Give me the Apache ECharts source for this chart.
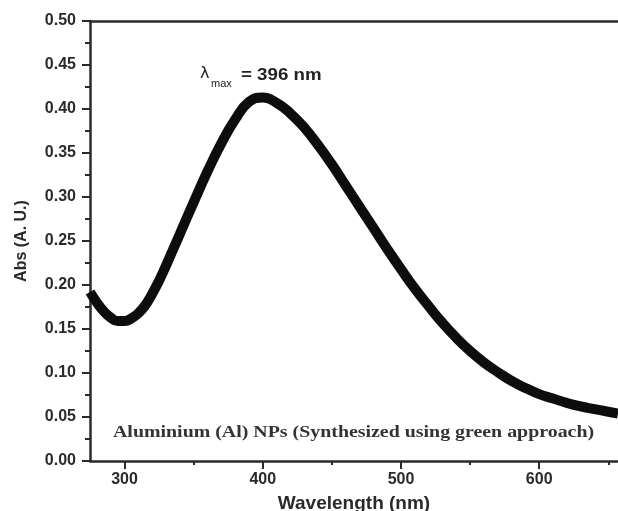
<!DOCTYPE html>
<html><head><meta charset="utf-8">
<script src="https://cdn.jsdelivr.net/npm/echarts@6/dist/echarts.min.js"></script>
<style>html,body{margin:0;padding:0;background:#fff}#c{width:618px;height:511px}</style>
</head><body><div id="c"></div>
<script>
var wavelength = [275,280,285,290,295,300,305,310,315,320,325,330,335,340,350,360,370,380,390,400,410,420,430,440,450,460,470,480,490,500,510,520,530,540,550,560,570,580,590,600,610,620,630,640,650,657];
var absorbance = [0.192,0.180,0.170,0.163,0.159,0.159,0.162,0.168,0.177,0.190,0.205,0.222,0.240,0.258,0.294,0.329,0.361,0.388,0.408,0.413,0.407,0.395,0.379,0.359,0.337,0.313,0.289,0.265,0.241,0.218,0.196,0.176,0.157,0.140,0.125,0.112,0.101,0.091,0.083,0.076,0.071,0.066,0.062,0.059,0.056,0.054];
var xMajorTicks = [300,400,500,600];
var xMinorTicks = [350,450,550,650];
var annotation = 'Aluminium (Al) NPs (Synthesized using green approach)';
var peakLabel = '= 396 nm';

var pts = wavelength.map(function(w,i){return [w, absorbance[i]];});
var axisCol = '#2a2a2a';
var txtCol = '#2a2a2a';
var chart = echarts.init(document.getElementById('c'), null, {renderer:'canvas'});
chart.setOption({
  backgroundColor:'#fff',
  animation:false,
  grid:{left:90,top:21,right:0,bottom:50,containLabel:false,outerBoundsMode:'none'},
  xAxis:[{
    type:'value', min:275, max:657,
    name:'Wavelength (nm)', nameLocation:'middle', nameGap:33,
    nameTextStyle:{fontFamily:'Liberation Sans',fontWeight:'bold',fontSize:19,color:txtCol},
    axisLine:{show:true,onZero:false,lineStyle:{color:axisCol,width:2.5}},
    axisTick:{show:true,inside:false,length:8,customValues:xMajorTicks,lineStyle:{color:axisCol,width:2}},
    axisLabel:{show:true,margin:11,customValues:xMajorTicks,fontFamily:'Liberation Sans',fontWeight:'bold',fontSize:16,color:txtCol},
    splitLine:{show:false}
  },{
    type:'value', min:275, max:657, position:'bottom',
    axisLine:{show:false},
    axisTick:{show:true,length:4,customValues:xMinorTicks,lineStyle:{color:axisCol,width:2}},
    axisLabel:{show:false},
    splitLine:{show:false}
  },{
    type:'value', min:275, max:657, position:'top',
    axisLine:{show:true,lineStyle:{color:axisCol,width:2.5}},
    axisTick:{show:false}, axisLabel:{show:false}, splitLine:{show:false}
  }],
  yAxis:{
    type:'value', min:0, max:0.5, interval:0.05,
    name:'Abs (A. U.)', nameLocation:'middle', nameGap:60, nameRotate:90,
    nameTextStyle:{fontFamily:'Liberation Sans',fontWeight:'bold',fontSize:16,color:txtCol},
    axisLine:{show:true,onZero:false,lineStyle:{color:axisCol,width:2.5}},
    axisTick:{show:true,length:8,lineStyle:{color:axisCol,width:2}},
    minorTick:{show:true,splitNumber:2,length:5,lineStyle:{color:axisCol,width:2}},
    axisLabel:{margin:14,fontFamily:'Liberation Sans',fontWeight:'bold',fontSize:16,color:txtCol,
      formatter:function(v){return v.toFixed(2);}},
    splitLine:{show:false}
  },
  series:[{
    type:'line', xAxisIndex:0, data:pts, smooth:0.5, showSymbol:false,
    lineStyle:{color:'#0d0d0d',width:10}, z:3
  }],
  graphic:[
    {type:'text',x:200,y:66,style:{text:'λ',fontFamily:'DejaVu Sans',fontSize:16,fill:'#222'}},
    {type:'text',x:211,y:78,style:{text:'max',fontFamily:'Liberation Sans',fontSize:11,fill:'#222'}},
    {type:'text',x:241,y:67,scaleX:1.1,style:{text:peakLabel,fontFamily:'Liberation Sans',fontWeight:'bold',fontSize:17,fill:'#222'}},
    {type:'text',x:113,y:424,scaleX:1.17,style:{text:annotation,fontFamily:'Liberation Serif',fontWeight:'bold',fontSize:17,fill:'#333'}}
  ]
});
</script></body></html>
